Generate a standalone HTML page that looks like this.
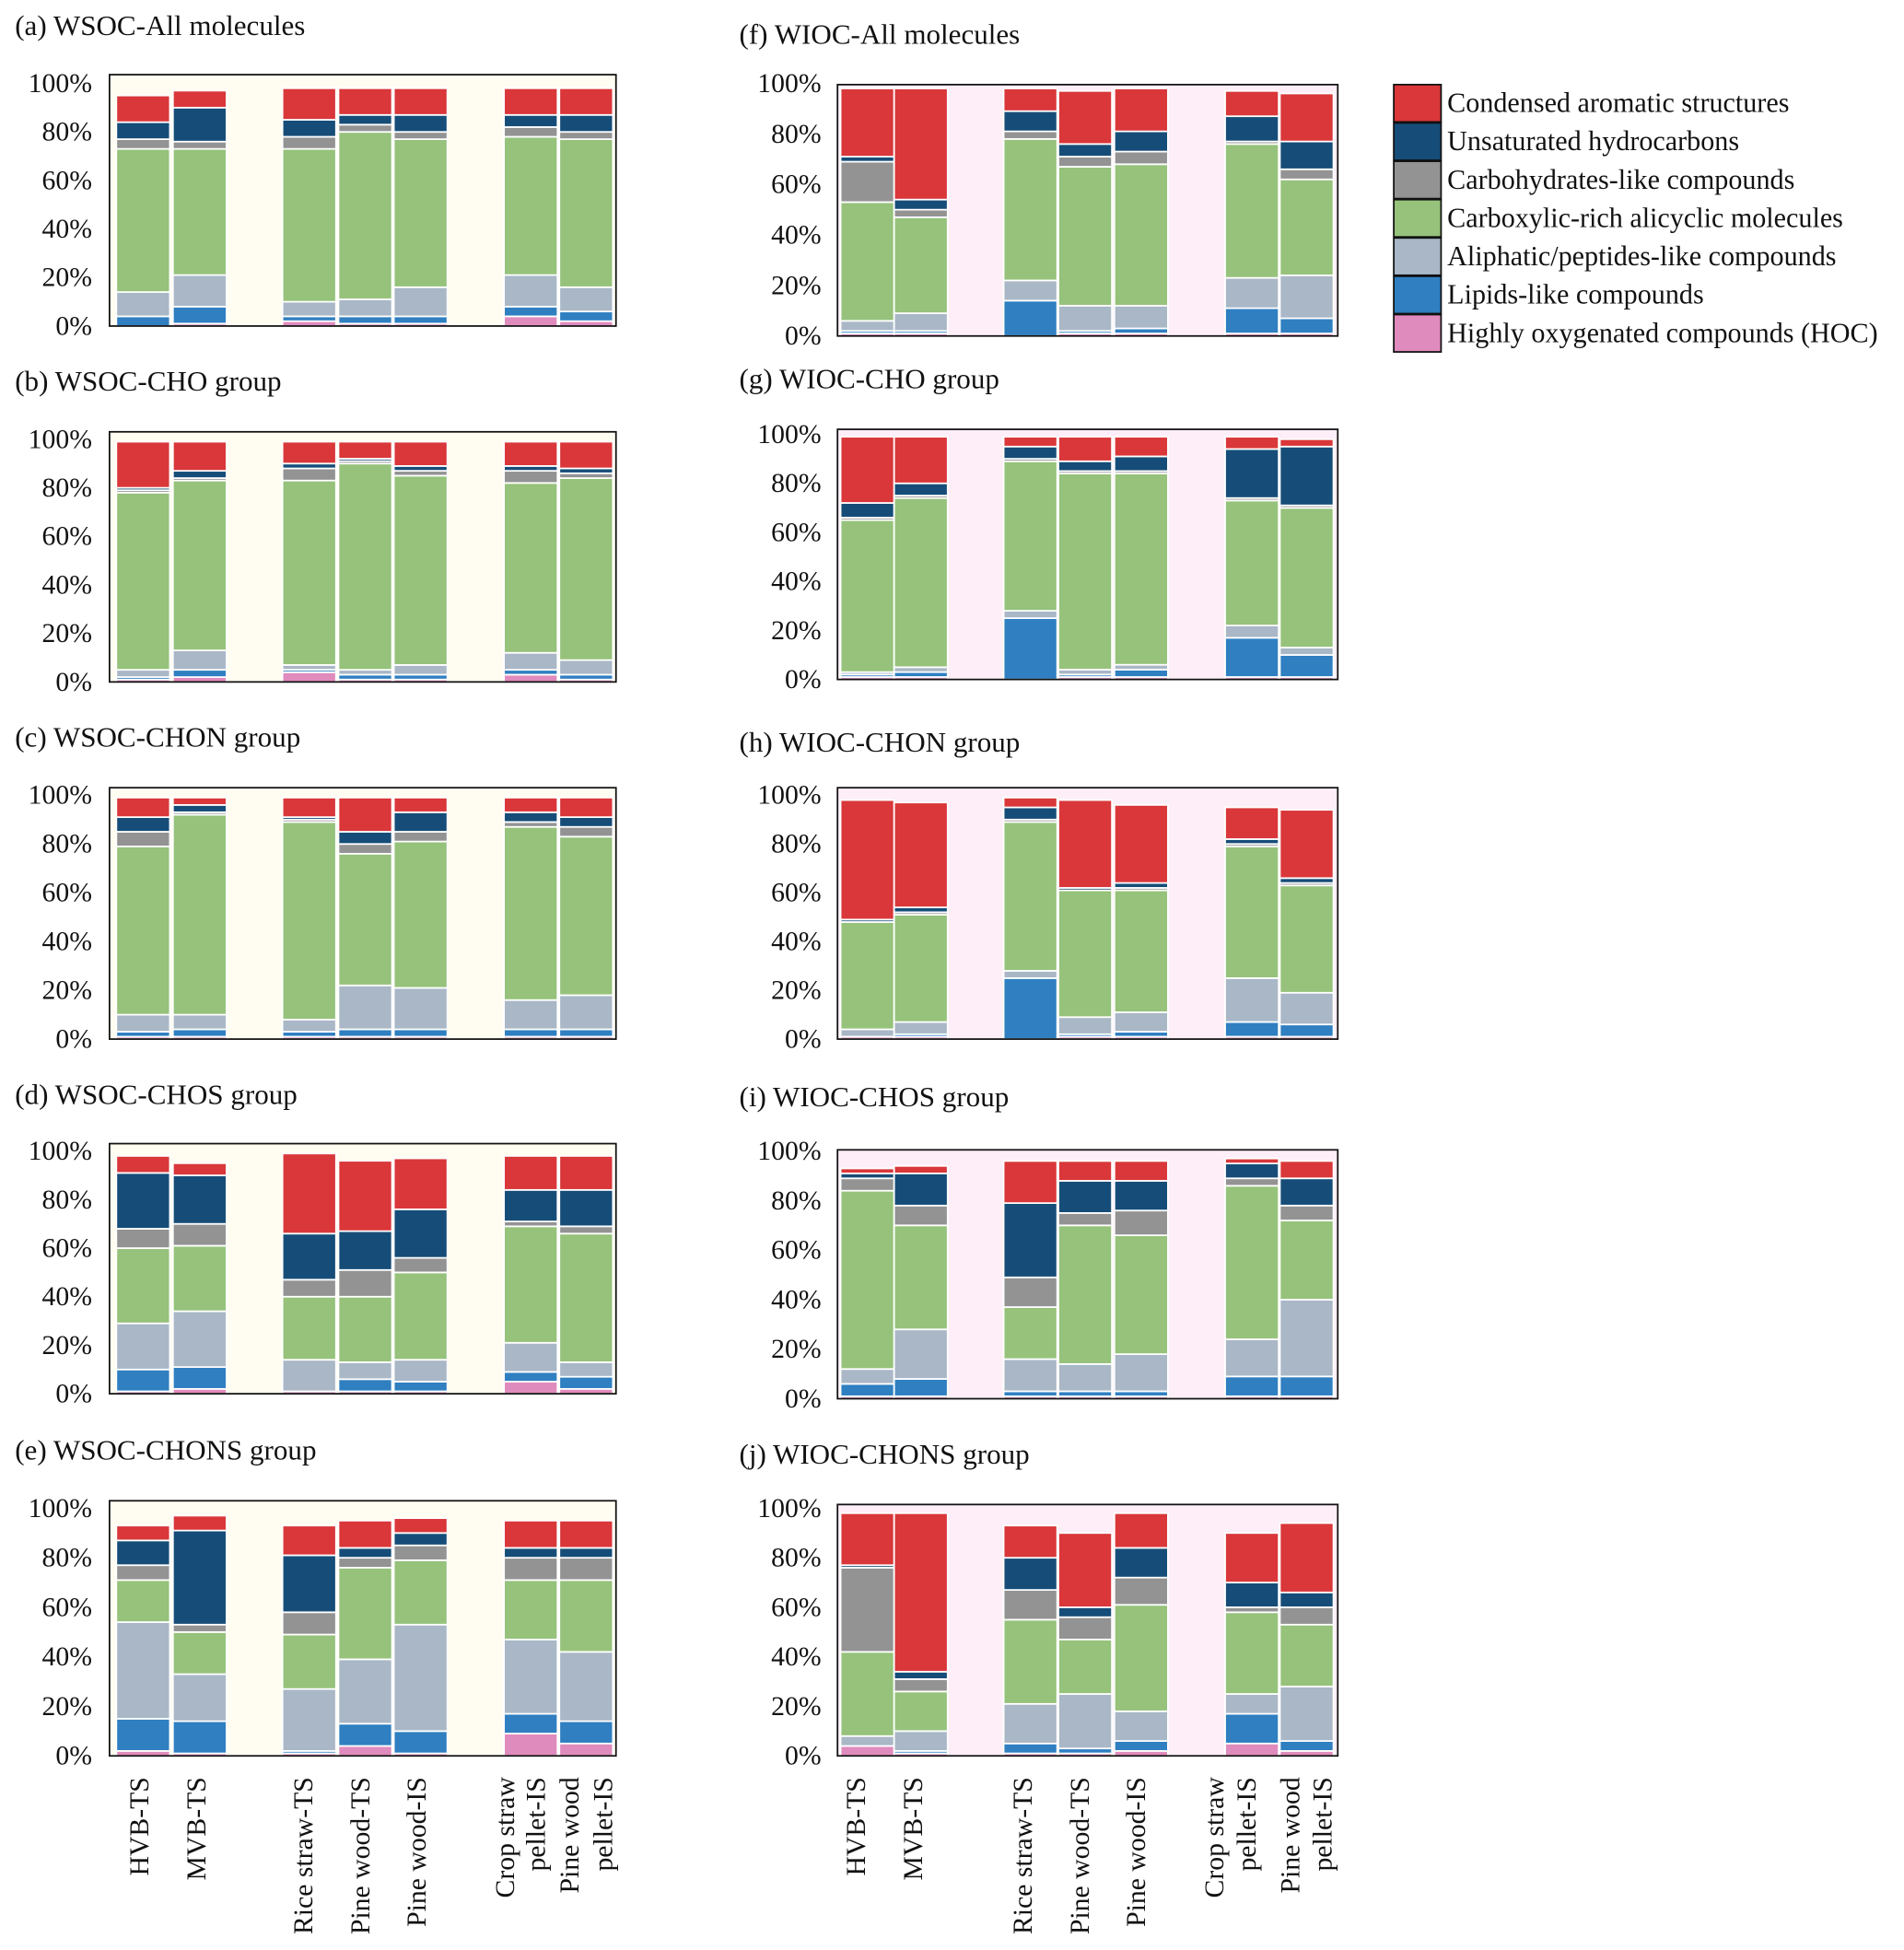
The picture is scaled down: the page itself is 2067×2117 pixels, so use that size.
<!DOCTYPE html>
<html><head><meta charset="utf-8"><style>
html,body{margin:0;padding:0;background:#fff;}
svg{display:block;font-family:"Liberation Serif",serif;}
</style></head><body>
<svg id="chart" width="2067" height="2117" viewBox="0 0 1530 1567" preserveAspectRatio="none" xmlns="http://www.w3.org/2000/svg"></svg>
<script>
// categories and series
const categories = ["HVB-TS","MVB-TS","Rice straw-TS","Pine wood-TS","Pine wood-IS","Crop straw pellet-IS","Pine wood pellet-IS"];
const seriesNames = ["Highly oxygenated compounds (HOC)","Lipids-like compounds","Aliphatic/peptides-like compounds","Carboxylic-rich alicyclic molecules","Carbohydrates-like compounds","Unsaturated hydrocarbons","Condensed aromatic structures"];
const tickValues = [0,20,40,60,80,100];
const tickLabels = ["0%","20%","40%","60%","80%","100%"];
// cumulative tops per bar (bottom→top: HOC, lipids, aliphatic, carboxylic, carbohydrates, unsaturated, condensed)
const dataA = [[0,4,14,73,77,84,95],[1,8,21,73,76,90,97],[2,4,10,73,78,85,98],[1,4,11,80,83,87,98],[1,4,16,77,80,87,98],[4,8,21,78,82,87,98],[2,6,16,77,80,87,98]];
const dataB = [[1,2,5,78,79,80,99],[2,5,13,83,84,87,99],[4,5,7,83,88,90,99],[1,3,5,90,91,92,99],[1,3,7,85,87,89,99],[3,5,12,82,87,89,99],[1,3,9,84,86,88,99]];
const dataC = [[1,3,10,79,85,91,99],[1,4,10,92,93,96,99],[1,3,8,89,90,91,99],[1,4,22,76,80,85,99],[1,4,21,81,85,93,99],[1,4,16,87,89,93,99],[1,4,18,83,87,91,99]];
const dataD = [[1,10,29,60,68,91,98],[2,11,34,61,70,90,95],[1,1,14,40,47,66,99],[1,6,13,40,51,67,96],[1,5,14,50,56,76,97],[5,9,21,69,71,84,98],[2,7,13,66,69,84,98]];
const dataE = [[2,15,54,71,77,87,93],[1,14,33,50,53,91,97],[1,2,27,49,58,81,93],[4,13,39,76,80,84,95],[1,10,53,79,85,90,96],[9,17,47,71,80,84,95],[5,14,42,71,80,84,95]];
const dataF = [[1,2,6,53,69,71,98],[1,2,9,47,50,54,98],[0,14,22,78,81,89,98],[1,2,12,67,71,76,97],[1,3,12,68,73,81,98],[1,11,23,76,77,87,97],[1,7,24,62,66,77,96]];
const dataG = [[1,2,3,65,66,72,99],[1,3,5,74,75,80,99],[0,25,28,89,90,95,99],[1,2,4,84,85,89,99],[1,4,6,84,85,91,99],[1,17,22,73,74,94,99],[1,10,13,70,71,95,98]];
const dataH = [[1,1,4,48,48,49,98],[1,2,7,51,52,54,97],[0,25,28,89,90,95,99],[1,2,9,61,61,62,98],[1,3,11,61,62,64,96],[1,7,25,79,80,82,95],[1,6,19,63,64,66,94]];
const dataI = [[1,6,12,84,89,91,93],[1,8,28,70,78,91,94],[1,3,16,37,49,79,96],[1,3,14,70,75,88,96],[1,3,18,66,76,88,96],[1,9,24,86,89,95,97],[1,9,40,72,78,89,96]];
const dataJ = [[4,4,8,42,76,77,98],[1,2,10,26,31,34,98],[1,5,21,55,67,80,93],[1,3,25,47,56,60,90],[2,6,18,61,72,84,98],[5,17,25,58,60,70,90],[2,6,28,53,60,66,94]];

const colors = ["#e08bbd","#2f7fc1","#a9b7c6","#96c27b","#939393","#164d78","#d9373a"];
const NS = "http://www.w3.org/2000/svg";
const svg = document.getElementById('chart');
function mk(tag, attrs, parent){const e=document.createElementNS(NS,tag);for(const k in attrs)e.setAttribute(k,attrs[k]);(parent||svg).appendChild(e);return e;}

const leftX = {box:[88,495], centers:[115,160.5,248.5,293.5,338,426.5,471], bw:43, labelX:74, bg:"#fffdf1", titleX:12};
const rightX = {box:[673,1075], centers:[697,740,828,872,917,1006,1050], bw:43, labelX:660, bg:"#fdeef7", titleX:594};
const panels = [
 {id:"a",title:"(a) WSOC-All molecules",data:dataA,side:leftX,top:60,bottom:262,y100:67,ty:28},
 {id:"b",title:"(b) WSOC-CHO group",data:dataB,side:leftX,top:347,bottom:548,y100:353,ty:314},
 {id:"c",title:"(c) WSOC-CHON group",data:dataC,side:leftX,top:633,bottom:835,y100:639,ty:600},
 {id:"d",title:"(d) WSOC-CHOS group",data:dataD,side:leftX,top:919,bottom:1120,y100:925,ty:887},
 {id:"e",title:"(e) WSOC-CHONS group",data:dataE,side:leftX,top:1206,bottom:1411,y100:1212,ty:1173},
 {id:"f",title:"(f) WIOC-All molecules",data:dataF,side:rightX,top:68,bottom:270,y100:67,ty:35},
 {id:"g",title:"(g) WIOC-CHO group",data:dataG,side:rightX,top:345,bottom:546,y100:349,ty:312},
 {id:"h",title:"(h) WIOC-CHON group",data:dataH,side:rightX,top:633,bottom:835,y100:639,ty:604},
 {id:"i",title:"(i) WIOC-CHOS group",data:dataI,side:rightX,top:924,bottom:1124,y100:925,ty:889},
 {id:"j",title:"(j) WIOC-CHONS group",data:dataJ,side:rightX,top:1209,bottom:1411,y100:1212,ty:1176}
];

panels.forEach(p=>{
  const s=p.side;
  const g=mk('g',{});
  
  
  const yScale=v=>p.bottom-(p.bottom-p.y100)*v/100;
  const t=mk('text',{x:s.titleX,y:p.ty,'font-size':23,fill:'#111'},g);
  t.textContent=p.title;
  
  
  const bg=mk('rect',{x:s.box[0],y:p.top,width:s.box[1]-s.box[0],height:p.bottom-p.top,fill:s.bg},g);
  
  
  p.data.forEach((tops,bi)=>{
    let prev=0;
    tops.forEach((top,si)=>{
      const h=top-prev;
      if(h>0){
        const y1=yScale(top), y0=yScale(prev);
        const r=mk('rect',{x:s.centers[bi]-s.bw/2,y:y1,width:s.bw,height:Math.max(0,y0-y1),fill:colors[si],stroke:'#fff','stroke-width':1.3},g);
        
        
      }
      prev=top;
    });
  });
  const box=mk('rect',{x:s.box[0],y:p.top,width:s.box[1]-s.box[0],height:p.bottom-p.top,fill:'none',stroke:'#111','stroke-width':1.3},g);
  
  
  tickValues.forEach((v,i)=>{
    const tl=mk('text',{x:s.labelX,y:yScale(v)+7,'font-size':22,'text-anchor':'end',fill:'#111'},g);
    tl.textContent=tickLabels[i];
    
    
  });
});

// x-axis labels
const labelLines = [["HVB-TS"],["MVB-TS"],["Rice straw-TS"],["Pine wood-TS"],["Pine wood-IS"],["Crop straw","pellet-IS"],["Pine wood","pellet-IS"]];
const leftLabelX=[[112],[158],[244],[290],[335],[406,431],[458,485]];
const rightLabelX=[[688],[734],[822],[868],[913],[976,1002],[1037,1063]];
[leftLabelX,rightLabelX].forEach((xs,side)=>{
  labelLines.forEach((lines,ci)=>{
    lines.forEach((ln,li)=>{
      const x=xs[ci][li];
      const tx=mk('text',{x:0,y:0,'font-size':22,'text-anchor':'end',fill:'#111',transform:`translate(${x+7},1428) rotate(-90)`});
      tx.textContent=ln;
      
      
    });
  });
});

// legend
const legendOrder=[6,5,4,3,2,1,0];
legendOrder.forEach((si,i)=>{
  const y=68+i*30.8;
  const r=mk('rect',{x:1120,y:y,width:38,height:30,fill:colors[si],stroke:'#111','stroke-width':1.3});
  
  
  const t=mk('text',{x:1163,y:y+22,'font-size':22.3,fill:'#111'});
  t.textContent=seriesNames[si];
  
  
});
</script>
</body></html>
